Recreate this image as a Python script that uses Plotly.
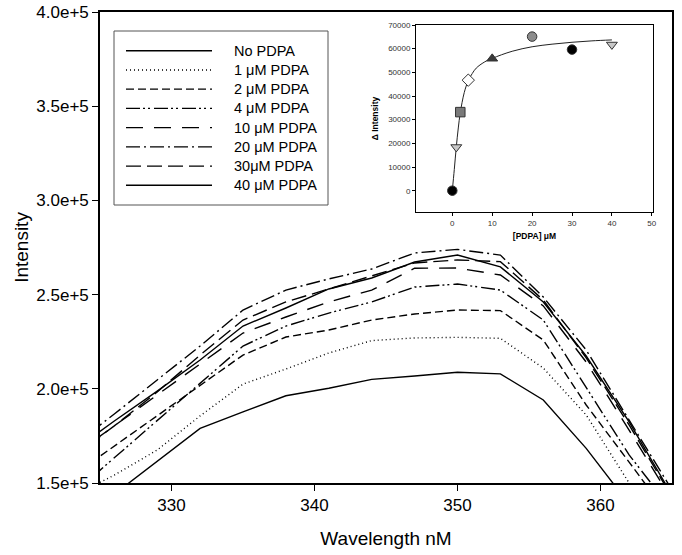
import plotly.graph_objects as go

# ---------------- data ----------------
wavelength = [323, 326, 329, 332, 335, 338, 341, 344, 347, 350, 353, 356, 359, 362, 365]
i_0 = [126600, 144200, 161700, 179000, 187800, 196300, 200300, 205000, 206800, 208800, 207900, 194100, 168400, 139400, 109100]
i_1 = [142600, 154200, 167500, 185600, 202500, 210500, 219000, 225600, 227000, 227300, 226800, 211000, 186100, 150000, 119700]
i_2 = [153500, 169600, 185700, 201800, 217900, 227500, 231200, 236500, 239700, 241800, 241500, 225900, 191400, 161100, 130400]
i_4 = [143600, 163300, 183100, 202900, 222700, 233300, 240200, 246100, 254000, 255600, 252400, 236500, 201000, 164900, 135700]
i_10 = [163900, 180300, 196700, 213200, 229600, 238100, 246100, 252400, 264000, 264100, 260400, 244000, 214200, 178100, 141000]
i_20 = [169100, 186600, 204700, 222700, 241800, 252400, 258300, 263600, 272100, 274000, 271000, 248700, 220600, 183400, 146300]
i_30 = [163300, 180300, 198300, 217900, 236500, 246100, 253000, 259900, 266800, 268400, 267500, 247100, 216400, 180800, 142600]
i_40 = [166500, 182900, 198800, 215300, 233300, 242900, 253000, 258800, 267300, 271000, 264700, 246100, 217400, 182400, 143600]

series_names = ["No PDPA", "1 \u03bcM PDPA", "2 \u03bcM PDPA", "4 \u03bcM PDPA",
                "10 \u03bcM PDPA", "20 \u03bcM PDPA", "30\u03bcM PDPA", "40 \u03bcM PDPA"]
series_values = [i_0, i_1, i_2, i_4, i_10, i_20, i_30, i_40]

y_tickvals = [150000, 200000, 250000, 300000, 350000, 400000]
y_ticktext = ["1.5e+5", "2.0e+5", "2.5e+5", "3.0e+5", "3.5e+5", "4.0e+5"]
x_tickvals = [330, 340, 350, 360]

# inset data
pdpa_conc = [0, 1, 2, 4, 10, 20, 30, 40]
delta_int = [0, 18400, 33200, 46700, 55800, 65100, 59600, 61700]
fit_conc = [0, 0.5, 1, 1.5, 2, 3, 4, 5, 6, 8, 10, 15, 20, 25, 30, 35, 40]
fit_delta = [0, 9000, 18500, 26500, 33000, 41500, 46500, 49500, 51800, 54300, 55900, 58900, 60800, 61900, 62700, 63300, 63700]
inset_ytickvals = [0, 10000, 20000, 30000, 40000, 50000, 60000, 70000]
inset_yticktext = ["0", "10000", "20000", "30000", "40000", "50000", "60000", "70000"]
inset_xtickvals = [0, 10, 20, 30, 40, 50]

# ---------------- styles ----------------
dashes = ["solid", "1px,3px", "8px,4px", "14px,3px,2px,3px,2px,4px",
          "17px,11px", "14px,4px,2px,4px", "15px,6px", "solid"]
marker_symbols = ["circle", "triangle-down", "square", "diamond", "triangle-up", "circle", "circle", "triangle-down"]
marker_fills = ["#000000", "#c8c8c8", "#7a7a7a", "#ffffff", "#3a3a3a", "#8c8c8c", "#000000", "#c8c8c8"]

FONT = "Liberation Sans, Arial, sans-serif"
W, H = 682, 555
L, R, T, B = 100, 10, 12, 72
PW, PH = W - L - R, H - T - B


def px_x(px):
    return (px - L) / PW


def px_y(py):
    return (H - B - py) / PH


fig = go.Figure()

for name, vals, dsh in zip(series_names, series_values, dashes):
    fig.add_trace(go.Scatter(x=wavelength, y=vals, mode="lines", name=name,
                             line=dict(color="black", width=1.4, dash=dsh),
                             showlegend=False, cliponaxis=True))

# inset fit curve and points
fig.add_trace(go.Scatter(x=fit_conc, y=fit_delta, mode="lines", xaxis="x2", yaxis="y2",
                         line=dict(color="#222", width=1, shape="spline"), showlegend=False))
fig.add_trace(go.Scatter(x=pdpa_conc, y=delta_int, mode="markers", xaxis="x2", yaxis="y2",
                         marker=dict(symbol=marker_symbols, color=marker_fills, size=9.5,
                                     line=dict(color="#333", width=1)),
                         showlegend=False))

axis_common = dict(showgrid=False, zeroline=False, linecolor="black", ticks="outside",
                   tickcolor="black", automargin=False)

fig.update_layout(
    width=W, height=H,
    margin=dict(l=L, r=R, t=T, b=B, autoexpand=False),
    plot_bgcolor="white", paper_bgcolor="white",
    font=dict(family=FONT, color="black"),
    xaxis=dict(range=[325, 365], tickvals=x_tickvals, ticklen=6, linewidth=1.5, mirror=True,
               tickfont=dict(size=17), title=dict(text="Wavelength nM", font=dict(size=19), standoff=18),
               **axis_common),
    yaxis=dict(range=[150000, 400000], tickvals=y_tickvals, ticktext=y_ticktext, ticklen=6,
               linewidth=1.5, mirror=True, tickfont=dict(size=17),
               title=dict(text="Intensity", font=dict(size=19), standoff=3), **axis_common),
    xaxis2=dict(domain=[px_x(416), px_x(653)], anchor="y2", range=[-9.1, 50.3],
                tickvals=inset_xtickvals, ticklen=3, linewidth=1, mirror=True,
                tickfont=dict(size=8, color="#333"),
                title=dict(text="<b>[PDPA] \u03bcM</b>", font=dict(size=8.5), standoff=6),
                **axis_common),
    yaxis2=dict(domain=[px_y(212), px_y(25)], anchor="x2", range=[-9000, 70000],
                tickvals=inset_ytickvals, ticktext=inset_yticktext, ticklen=3, linewidth=1, mirror=True,
                tickfont=dict(size=8, color="#333"),
                title=dict(text="<b>\u0394 Intensity</b>", font=dict(size=8.5), standoff=8),
                **axis_common),
)

# manual legend (long line samples as in the reference)
shapes = [dict(type="rect", xref="paper", yref="paper",
               x0=px_x(114), x1=px_x(328), y0=px_y(205), y1=px_y(31),
               line=dict(color="#555", width=1), fillcolor="white", layer="below")]
annotations = []
row0, step = 50.7, 19.23
for k, (name, dsh) in enumerate(zip(series_names, dashes)):
    yy = px_y(row0 + k * step)
    shapes.append(dict(type="line", xref="paper", yref="paper",
                       x0=px_x(126), x1=px_x(212), y0=yy, y1=yy,
                       line=dict(color="black", width=1.4, dash=dsh)))
    annotations.append(dict(text=name, xref="paper", yref="paper", x=px_x(232), y=yy,
                            xanchor="left", yanchor="middle", showarrow=False,
                            font=dict(size=14.5, family=FONT, color="black")))
fig.update_layout(shapes=shapes, annotations=annotations)

fig.write_html("out.html", config={"displayModeBar": False},
               post_script="document.body.style.margin='0';document.body.style.overflow='hidden';")
